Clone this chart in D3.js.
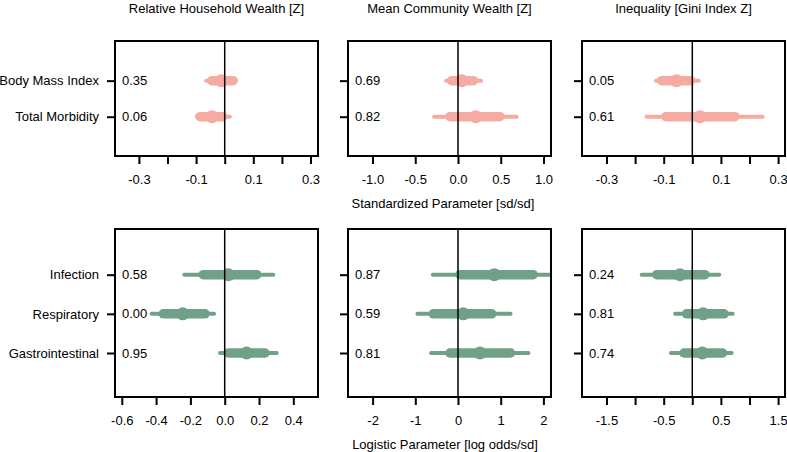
<!DOCTYPE html>
<html lang="en">
  <head>
    <meta charset="UTF-8"/>
    <title>Wealth effects</title>
    <script src="https://d3js.org/d3.v7.min.js"></script>
    <style>
        body {
          margin: 0;
          background: #fff;
        }
        svg {
          font-family: "Liberation Sans", Arial, sans-serif;
          font-size: 13px;
        }
        .frame {
          fill: none;
          stroke: #000;
          stroke-width: 2;
        }
        .zero {
          stroke: #000;
          stroke-width: 1.5;
        }
        .axis path {
          display: none;
        }
        .axis line {
          stroke: #000;
          stroke-width: 2;
        }
        .axis text {
          font-size: 13px;
          fill: #000;
        }
    </style>
  </head>
  <body>
    <script>
        // predictors (columns) and outcomes (rows)
        const predictors = ["Relative Household Wealth [Z]", "Mean Community Wealth [Z]", "Inequality [Gini Index Z]"]
        const topOutcomes = ["Body Mass Index", "Total Morbidity"]
        const bottomOutcomes = ["Infection", "Respiratory", "Gastrointestinal"]

        // standardized models, one array per predictor, rows in topOutcomes order
        const topMedian = [[-0.012, -0.045], [0.043, 0.207], [-0.055, 0.027]]
        const topLo95   = [[-0.065, -0.098], [-0.14, -0.28], [-0.127, -0.16]]
        const topHi95   = [[0.040, 0.018], [0.27, 0.686], [0.023, 0.246]]
        const topLo50   = [[-0.045, -0.086], [-0.074, -0.094], [-0.107, -0.092]]
        const topHi50   = [[0.029, -0.007], [0.18, 0.49], [-0.006, 0.149]]
        const topProb   = [["0.35", "0.06"], ["0.69", "0.82"], ["0.05", "0.61"]]

        // logistic models, rows in bottomOutcomes order
        const bottomMedian = [[0.021, -0.245, 0.128], [0.85, 0.125, 0.515], [-0.215, 0.19, 0.175]]
        const bottomLo95   = [[-0.236, -0.426, -0.027], [-0.59, -0.95, -0.63], [-0.885, -0.30, -0.372]]
        const bottomHi95   = [[0.283, -0.062, 0.303], [2.14, 1.23, 1.65], [0.472, 0.706, 0.688]]
        const bottomLo50   = [[-0.125, -0.358, 0.021], [0.047, -0.58, -0.19], [-0.62, -0.10, -0.145]]
        const bottomHi50   = [[0.187, -0.115, 0.235], [1.76, 0.79, 1.23], [0.22, 0.554, 0.53]]
        const bottomProb   = [["0.58", "0.00", "0.95"], ["0.87", "0.59", "0.81"], ["0.24", "0.81", "0.74"]]

        // x ticks and which of them carry a label
        const topTicks = [[-0.3, -0.2, -0.1, 0, 0.1, 0.2, 0.3], [-1, -0.5, 0, 0.5, 1], [-0.3, -0.2, -0.1, 0, 0.1, 0.2, 0.3]]
        const topTickLabels = [["-0.3", "", "-0.1", "", "0.1", "", "0.3"], ["-1.0", "-0.5", "0.0", "0.5", "1.0"], ["-0.3", "", "-0.1", "", "0.1", "", "0.3"]]
        const bottomTicks = [[-0.6, -0.4, -0.2, 0, 0.2, 0.4], [-2, -1, 0, 1, 2], [-1.5, -1, -0.5, 0, 0.5, 1, 1.5]]
        const bottomTickLabels = [["-0.6", "-0.4", "-0.2", "0.0", "0.2", "0.4"], ["-2", "-1", "0", "1", "2"], ["-1.5", "", "-0.5", "", "0.5", "", "1.5"]]

        const xLabelTop = "Standardized Parameter [sd/sd]"
        const xLabelBottom = "Logistic Parameter [log odds/sd]"

        const width = 787, height = 452
        const colLeft = [115, 348, 582], panelW = 203
        const topBox = {y0: 41, y1: 156}, bottomBox = {y0: 229, y1: 397}

        const topDomains = [[-0.3836, 0.3262], [-1.2865, 1.0877], [-0.3857, 0.3241]]
        const bottomDomains = [[-0.6397, 0.544], [-2.576, 2.178], [-1.928, 1.621]]

        const pink = "#f6aba2", green = "#70a087"

        const svg = d3.select("body").append("svg")
            .attr("width", width)
            .attr("height", height)

        function drawRow(box, outcomes, domains, yDomain, med, lo95, hi95, lo50, hi50, prob, ticks, tickLabels, color, showTitle) {
          const y = d3.scaleLinear().domain(yDomain).range([box.y0, box.y1])
          predictors.forEach((pred, c) => {
            const x = d3.scaleLinear().domain(domains[c]).range([colLeft[c], colLeft[c] + panelW])
            const g = svg.append("g")

            const rows = outcomes.map((o, i) => ({
              name: o, med: med[c][i], lo95: lo95[c][i], hi95: hi95[c][i],
              lo50: lo50[c][i], hi50: hi50[c][i], p: prob[c][i], i: i
            }))

            // outer interval
            g.selectAll("line.outer")
              .data(rows)
              .join("line")
              .attr("class", "outer")
              .attr("x1", d => x(d.lo95)).attr("x2", d => x(d.hi95))
              .attr("y1", d => y(d.i)).attr("y2", d => y(d.i))
              .attr("stroke", color).attr("stroke-width", 4).attr("stroke-linecap", "round")

            // inner interval
            g.selectAll("line.inner")
              .data(rows)
              .join("line")
              .attr("class", "inner")
              .attr("x1", d => x(d.lo50)).attr("x2", d => x(d.hi50))
              .attr("y1", d => y(d.i)).attr("y2", d => y(d.i))
              .attr("stroke", color).attr("stroke-width", 9.5).attr("stroke-linecap", "round")

            g.selectAll("circle")
              .data(rows)
              .join("circle")
              .attr("cx", d => x(d.med))
              .attr("cy", d => y(d.i))
              .attr("r", 6.5)
              .attr("fill", color)

            // zero line on top of the marks
            g.append("line")
              .attr("class", "zero")
              .attr("x1", x(0)).attr("x2", x(0))
              .attr("y1", box.y0).attr("y2", box.y1)

            g.selectAll("text.prob")
              .data(rows)
              .join("text")
              .attr("class", "prob")
              .attr("x", colLeft[c] + 7)
              .attr("y", d => y(d.i))
              .attr("dy", "0.35em")
              .text(d => d.p)

            g.append("rect")
              .attr("class", "frame")
              .attr("x", colLeft[c]).attr("y", box.y0)
              .attr("width", panelW).attr("height", box.y1 - box.y0)

            const xAxis = d3.axisBottom(x)
              .tickValues(ticks[c])
              .tickSize(8)
              .tickPadding(11)
              .tickFormat((d, i) => tickLabels[c][i])
            g.append("g")
              .attr("class", "x axis")
              .attr("transform", `translate(0, ${box.y1})`)
              .call(xAxis)

            const yAxis = d3.axisLeft(y)
              .tickValues(d3.range(outcomes.length))
              .tickSize(8)
              .tickPadding(8)
              .tickFormat(i => c === 0 ? outcomes[i] : "")
            g.append("g")
              .attr("class", "y axis")
              .attr("transform", `translate(${colLeft[c]}, 0)`)
              .call(yAxis)

            if (showTitle) {
              g.append("text")
                .attr("x", colLeft[c] + panelW / 2)
                .attr("y", 13)
                .attr("text-anchor", "middle")
                .text(pred)
            }
          })
        }

        drawRow(topBox, topOutcomes, topDomains, [-1.1, 2.09],
                topMedian, topLo95, topHi95, topLo50, topHi50, topProb,
                topTicks, topTickLabels, pink, true)
        drawRow(bottomBox, bottomOutcomes, bottomDomains, [-1.167, 3.124],
                bottomMedian, bottomLo95, bottomHi95, bottomLo50, bottomHi50, bottomProb,
                bottomTicks, bottomTickLabels, green, false)

        svg.append("text")
            .attr("x", 443).attr("y", 208)
            .attr("text-anchor", "middle")
            .text(xLabelTop)

        svg.append("text")
            .attr("x", 445).attr("y", 449)
            .attr("text-anchor", "middle")
            .text(xLabelBottom)
    </script>
  </body>
</html>
